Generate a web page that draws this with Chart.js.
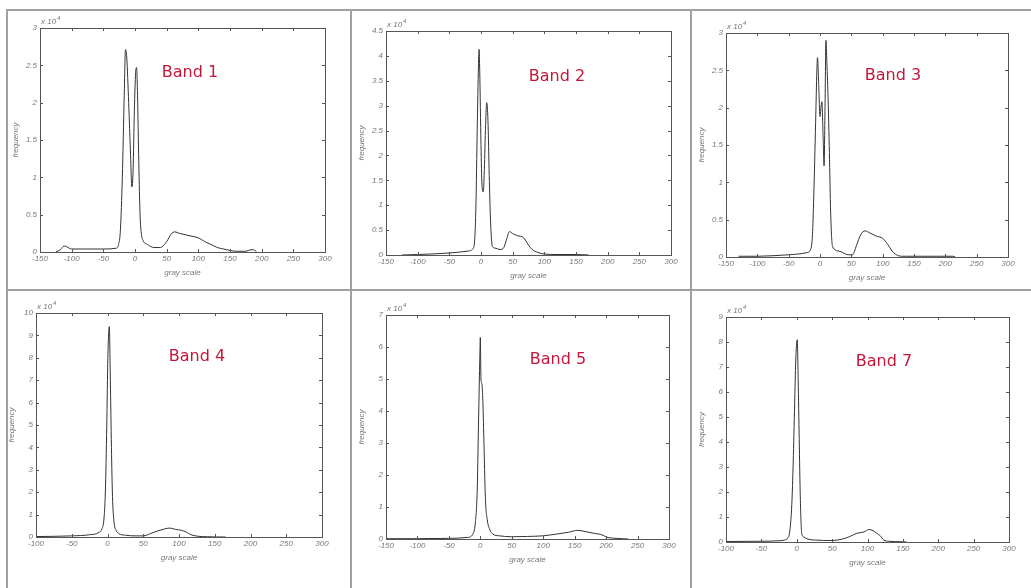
<!DOCTYPE html>
<html>
<head>
<meta charset="utf-8">
<script src="https://cdn.jsdelivr.net/npm/chart.js"></script>
<style>
  html, body { margin: 0; padding: 0; background: #fff; }
  #page { position: relative; width: 1031px; height: 588px; overflow: hidden; background: #fff; }
  .rule { position: absolute; background: #a0a0a0; }
  canvas.panel { position: absolute; }
  .band { position: absolute; font-family: "DejaVu Sans", Verdana, sans-serif; font-size: 16px; color: #c4173a; transform: translate(-50%, -50%); white-space: nowrap; }
</style>
</head>
<body>
<div id="page">
  <div class="rule" style="left:7px;top:9px;width:1024px;height:2px"></div>
  <div class="rule" style="left:7px;top:289px;width:1024px;height:2px"></div>
  <div class="rule" style="left:6px;top:9px;width:2px;height:579px"></div>
  <div class="rule" style="left:350px;top:9px;width:2px;height:579px"></div>
  <div class="rule" style="left:690px;top:9px;width:2px;height:579px"></div>

  <canvas class="panel" id="band1"></canvas>
  <canvas class="panel" id="band2"></canvas>
  <canvas class="panel" id="band3"></canvas>
  <canvas class="panel" id="band4"></canvas>
  <canvas class="panel" id="band5"></canvas>
  <canvas class="panel" id="band7"></canvas>

  <div class="band" style="left:190px;top:71px">Band 1</div>
  <div class="band" style="left:557px;top:75px">Band 2</div>
  <div class="band" style="left:893px;top:74px">Band 3</div>
  <div class="band" style="left:197px;top:355px">Band 4</div>
  <div class="band" style="left:558px;top:358px">Band 5</div>
  <div class="band" style="left:884px;top:360px">Band 7</div>
</div>

<script>
// gray scale values (x) and frequency in units of 10^4 (y)
const band1X = [-125, -118, -112, -108, -100, -80, -50, -30, -26, -23, -20, -17, -15, -13, -10, -7, -5, -3, -1, 1, 2.5, 4, 6, 8, 10, 13, 20, 30, 40, 50, 57, 63, 70, 80, 90, 100, 110, 120, 130, 140, 150, 160, 175, 183, 187, 192];
const band1Y = [0, 0.03, 0.08, 0.07, 0.04, 0.04, 0.04, 0.05, 0.1, 0.3, 1.0, 2.1, 2.71, 2.6, 2.0, 1.3, 0.87, 1.1, 1.9, 2.4, 2.47, 2.1, 1.2, 0.5, 0.25, 0.15, 0.1, 0.06, 0.06, 0.14, 0.24, 0.27, 0.25, 0.23, 0.21, 0.19, 0.14, 0.1, 0.06, 0.04, 0.02, 0.01, 0.01, 0.03, 0.03, 0];

const band2X = [-125, -100, -50, -20, -13, -10, -8, -6, -4, -3, -2, 0, 1.5, 3.5, 5, 7, 9, 11, 13, 15, 18, 22, 30, 36, 40, 45, 50, 55, 60, 65, 70, 75, 80, 90, 100, 120, 150, 170];
const band2Y = [0, 0.01, 0.04, 0.08, 0.12, 0.3, 1.0, 2.5, 3.8, 4.13, 3.7, 2.2, 1.42, 1.27, 1.6, 2.5, 3.06, 2.7, 1.6, 0.7, 0.17, 0.14, 0.11, 0.15, 0.3, 0.47, 0.43, 0.4, 0.38, 0.37, 0.3, 0.2, 0.12, 0.05, 0.02, 0.01, 0.01, 0];

const band3X = [-130, -100, -50, -20, -15, -12, -10, -7, -5, -4, -2, 0, 1.5, 3, 5, 6.5, 8, 9.5, 11, 13, 15, 17, 20, 30, 45, 52, 58, 65, 72, 80, 90, 100, 108, 115, 120, 130, 150, 200, 212, 216];
const band3Y = [0.01, 0.01, 0.03, 0.06, 0.1, 0.3, 0.8, 1.8, 2.5, 2.67, 2.3, 1.88, 2.0, 2.08, 1.6, 1.22, 2.0, 2.9, 2.6, 2.1, 1.4, 0.6, 0.14, 0.08, 0.03, 0.03, 0.15, 0.3, 0.35, 0.32, 0.28, 0.25, 0.17, 0.08, 0.04, 0.01, 0.01, 0.01, 0.01, 0];

const band4X = [-100, -75, -50, -25, -12, -8, -5, -3, -1, 0.5, 2.5, 4, 5.5, 7, 9, 12, 16, 25, 40, 50, 60, 70, 80, 87, 95, 103, 110, 117, 125, 140, 165];
const band4Y = [0.02, 0.03, 0.05, 0.1, 0.2, 0.35, 0.8, 2.0, 5.0, 8.0, 9.39, 7.0, 4.0, 1.8, 0.7, 0.3, 0.15, 0.08, 0.05, 0.05, 0.15, 0.27, 0.36, 0.4, 0.34, 0.3, 0.22, 0.1, 0.04, 0.01, 0];

const band5X = [-150, -100, -50, -20, -12, -8, -5, -3, -1, 0, 1, 2.5, 4, 5.5, 8, 11, 15, 20, 30, 50, 75, 100, 120, 140, 155, 165, 180, 195, 200, 210, 225, 235];
const band5Y = [0.01, 0.01, 0.02, 0.05, 0.15, 0.5, 1.5, 3.5, 5.5, 6.3, 5.0, 4.85, 4.3, 3.2, 1.3, 0.6, 0.3, 0.15, 0.1, 0.07, 0.08, 0.1, 0.15, 0.21, 0.27, 0.24, 0.18, 0.12, 0.06, 0.03, 0.01, 0];

const band7X = [-100, -50, -25, -17, -13, -10, -7, -5, -3, -1.5, 0.7, 2, 3.5, 5, 7, 10, 15, 25, 50, 65, 75, 85, 95, 102, 108, 113, 118, 123, 130, 150, 155];
const band7Y = [0.02, 0.03, 0.05, 0.08, 0.15, 0.4, 1.5, 3.2, 5.5, 7.2, 8.09, 6.5, 4.1, 1.8, 0.35, 0.2, 0.12, 0.08, 0.06, 0.12, 0.22, 0.35, 0.4, 0.5, 0.45, 0.35, 0.25, 0.08, 0.03, 0.01, 0];

// axis ranges: [xMin, xMax, yMax, yStep]
const band1Axes = [-150, 300, 3, 0.5];
const band2Axes = [-150, 300, 4.5, 0.5];
const band3Axes = [-150, 300, 3, 0.5];
const band4Axes = [-100, 300, 10, 1];
const band5Axes = [-150, 300, 7, 1];
const band7Axes = [-100, 300, 9, 1];

// plot box of each panel on the page: left, top, right, bottom
const panels = [
  { id: 'band1', x: band1X, y: band1Y, axes: band1Axes, box: [40, 28, 325, 252] },
  { id: 'band2', x: band2X, y: band2Y, axes: band2Axes, box: [386, 31, 671, 255] },
  { id: 'band3', x: band3X, y: band3Y, axes: band3Axes, box: [726, 33, 1008, 257] },
  { id: 'band4', x: band4X, y: band4Y, axes: band4Axes, box: [36, 313, 322, 537] },
  { id: 'band5', x: band5X, y: band5Y, axes: band5Axes, box: [386, 315, 669, 539] },
  { id: 'band7', x: band7X, y: band7Y, axes: band7Axes, box: [726, 317, 1009, 542] }
];

const PAD_LEFT = 40, PAD_TOP = 20, PAD_RIGHT = 10, PAD_BOTTOM = 30;
const FONT = '"Liberation Sans", Arial, sans-serif';
const tickFont = { family: FONT, size: 8, style: 'italic' };
const titleFont = { family: FONT, size: 8, style: 'italic' };

// matlab style box with inward ticks + the "x 10^4" exponent
const matlabBox = {
  id: 'matlabBox',
  afterDraw(chart) {
    const { ctx, chartArea: a, scales } = chart;
    ctx.save();
    ctx.strokeStyle = '#555';
    ctx.lineWidth = 1;
    ctx.strokeRect(Math.round(a.left) + 0.5, Math.round(a.top) + 0.5, Math.round(a.right - a.left), Math.round(a.bottom - a.top));
    ctx.beginPath();
    scales.x.ticks.forEach(t => {
      const px = Math.round(scales.x.getPixelForValue(t.value)) + 0.5;
      ctx.moveTo(px, a.bottom); ctx.lineTo(px, a.bottom - 3);
      ctx.moveTo(px, a.top); ctx.lineTo(px, a.top + 3);
    });
    scales.y.ticks.forEach(t => {
      const py = Math.round(scales.y.getPixelForValue(t.value)) + 0.5;
      ctx.moveTo(a.left, py); ctx.lineTo(a.left + 3, py);
      ctx.moveTo(a.right, py); ctx.lineTo(a.right - 3, py);
    });
    ctx.stroke();

    ctx.fillStyle = '#777';
    ctx.font = 'italic 8px ' + FONT;
    ctx.textBaseline = 'alphabetic';
    ctx.fillText('x 10', a.left + 1, a.top - 4);
    const w = ctx.measureText('x 10').width;
    ctx.font = 'italic 6px ' + FONT;
    ctx.fillText('4', a.left + 2 + w, a.top - 8);
    ctx.restore();
  }
};

panels.forEach(p => {
  const [l, t, r, b] = p.box;
  const canvas = document.getElementById(p.id);
  const w = r - l + PAD_LEFT + PAD_RIGHT;
  const h = b - t + PAD_TOP + PAD_BOTTOM;
  canvas.style.left = (l - PAD_LEFT) + 'px';
  canvas.style.top = (t - PAD_TOP) + 'px';
  canvas.style.width = w + 'px';
  canvas.style.height = h + 'px';
  canvas.width = w;
  canvas.height = h;

  const points = p.x.map((v, i) => ({ x: v, y: p.y[i] }));
  const [xMin, xMax, yMax, yStep] = p.axes;

  new Chart(canvas, {
    type: 'scatter',
    data: {
      datasets: [{
        data: points,
        showLine: true,
        borderColor: '#333',
        borderWidth: 1,
        pointRadius: 0,
        cubicInterpolationMode: 'monotone'
      }]
    },
    options: {
      responsive: false,
      animation: false,
      layout: { padding: { left: 0, top: PAD_TOP, right: PAD_RIGHT, bottom: 0 } },
      plugins: { legend: { display: false }, tooltip: { enabled: false } },
      scales: {
        x: {
          type: 'linear',
          min: xMin, max: xMax,
          grid: { display: false, drawTicks: false },
          border: { display: false },
          ticks: { stepSize: 50, autoSkip: false, maxRotation: 0, padding: 2, color: '#777', font: tickFont },
          title: { display: true, text: 'gray scale', color: '#777', font: titleFont, padding: { top: 0, bottom: 4 } },
          afterFit(scale) { scale.height = PAD_BOTTOM; }
        },
        y: {
          type: 'linear',
          min: 0, max: yMax,
          grid: { display: false, drawTicks: false },
          border: { display: false },
          ticks: { stepSize: yStep, autoSkip: false, padding: 3, color: '#777', font: tickFont, callback: v => String(+v.toFixed(2)) },
          title: { display: true, text: 'frequency', color: '#777', font: titleFont, padding: { top: 11, bottom: 0 } },
          afterFit(scale) { scale.width = PAD_LEFT; }
        }
      }
    },
    plugins: [matlabBox]
  });
});
</script>
</body>
</html>
